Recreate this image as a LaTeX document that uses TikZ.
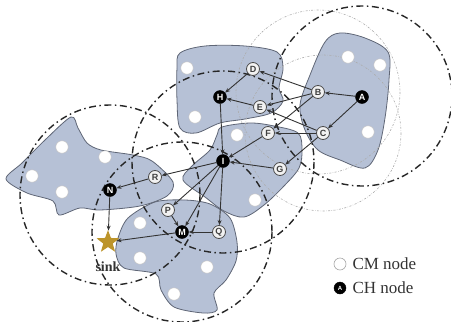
\documentclass[tikz,border=0pt]{standalone}
\usepackage{fontspec}
\setmainfont{Liberation Serif}
\setsansfont{Liberation Sans}
\usetikzlibrary{arrows.meta,shapes.geometric}
\definecolor{blobfill}{RGB}{182,193,214}
\definecolor{blobline}{RGB}{95,102,118}
\definecolor{starcol}{RGB}{188,148,42}
\begin{document}
\begin{tikzpicture}[x=1pt,y=-1pt,
 blob/.style={fill=blobfill,draw=blobline,line width=0.8pt},
 wdot/.style={circle,fill=white,draw=gray!50,line width=0.4pt,minimum size=12.5pt,inner sep=0pt},
 cmnode/.style={circle,fill=gray!10,draw=black!70,line width=0.8pt,minimum size=13pt,inner sep=0pt,font=\sffamily\bfseries\fontsize{9}{9}\selectfont,text=black!75},
 chnode/.style={circle,fill=black,draw=black,minimum size=13pt,inner sep=0pt,font=\sffamily\bfseries\fontsize{9}{9}\selectfont,text=white},
 chrange/.style={draw=black!85,line width=1.4pt,dash pattern=on 7pt off 3.5pt on 1.5pt off 3.5pt},
 cmrange/.style={draw=gray!65,line width=0.6pt,dash pattern=on 2pt off 1.5pt on 0.5pt off 1.5pt},
 link/.style={-{Stealth[length=5pt,width=4pt]},draw=black!80,line width=0.9pt}]
\useasboundingbox (0,0) rectangle (451,322);
\clip (0,0) rectangle (451,322);
% blobs
\draw[blob] plot[smooth cycle,tension=0.55] coordinates {(180,53) (205,46) (245,46) (277,52) (283,68) (279,88) (283,101) (271,113) (245,119) (220,123) (196,133) (180,128) (177,100) (177,68)};
\draw[blob] plot[smooth cycle,tension=0.55] coordinates {(340,33) (365,38) (388,52) (389,80) (385,118) (378,150) (365,168) (340,160) (318,150) (305,130) (300,105) (310,75) (325,42)};
\draw[blob] plot[smooth cycle,tension=0.55] coordinates {(222,127) (250,123) (274,126) (298,133) (302,150) (299,168) (284,186) (264,205) (244,217) (224,211) (205,197) (183,180) (192,166) (210,150) (217,135)};
\draw[blob] plot[smooth cycle,tension=0.5] coordinates {(6,179) (22,163) (45,140) (71,117) (78,128) (87,143) (101,150) (133,155) (152,161) (173,182) (167,196) (140,206) (100,210) (80,208) (59,215) (53,201) (27,193)};
\draw[blob] plot[smooth cycle,tension=0.5] coordinates {(118,238) (128,218) (155,202) (185,200) (210,204) (230,218) (237,242) (236,261) (226,280) (214,293) (217,310) (203,313) (174,307) (161,290) (156,274) (124,268) (116,254)};
% ranges
\draw[cmrange] (318,92) circle[radius=82];
\draw[cmrange] (323,133) circle[radius=78];
\draw[chrange] (362,96) circle[radius=90];
\draw[chrange] (223,162) circle[radius=91];
\draw[chrange] (110,195) circle[radius=90];
\draw[chrange] (182,232) circle[radius=90];
% white dots
\foreach \p [count=\k] in {(187,68),(195,117),(348,57),(380,65),(368,132),(237,135),(255,200),(62,147),(105,157),(32,176),(62,192),(140,223),(140,258),(207,267),(174,294)}
  \node[wdot] (w\k) at \p {};
% sensor nodes
\node[chnode] (A) at (362,97) {A};
\node[cmnode] (B) at (318,92) {B};
\node[cmnode] (C) at (323,133) {C};
\node[cmnode] (D) at (253,69) {D};
\node[cmnode] (E) at (260,107) {E};
\node[cmnode] (F) at (268,133) {F};
\node[cmnode] (G) at (280,169) {G};
\node[chnode] (H) at (220,97) {H};
\node[chnode] (I) at (223,161) {I};
\node[cmnode] (R) at (155,177) {R};
\node[chnode] (N) at (110,190) {N};
\node[cmnode] (P) at (168,210) {P};
\node[chnode] (M) at (182,232) {M};
\node[cmnode] (Q) at (219,232) {Q};
\node[star,star points=5,star point ratio=2.4,fill=starcol,minimum size=24pt,inner sep=0pt] (sink) at (108,242) {};
\node[font=\bfseries\fontsize{14}{14}\selectfont,text=black!80] (sinklbl) at (108,267) {sink};
% links
\foreach \s/\t in {A/B,A/C,B/D,B/E,B/F,C/E,C/F,C/G,D/H,E/H,H/I,F/I,G/I,I/R,I/P,I/M,I/Q,R/N,P/M,Q/M}
  \draw[link] (\s) -- (\t);
\draw[link] (N) -- (sink);
\draw[link] (M) -- (sink);
% legend
\node[circle,fill=white,draw=gray!70,line width=0.6pt,minimum size=12pt,inner sep=0pt] (lcm) at (340,264) {};
\node[anchor=west,font=\fontsize{17}{17}\selectfont,text=black!80] (lcmt) at (349,264) {CM node};
\node[chnode,minimum size=12pt,font=\sffamily\bfseries\fontsize{6}{6}\selectfont] (lch) at (340,288) {A};
\node[anchor=west,font=\fontsize{17}{17}\selectfont,text=black!80] (lcht) at (349,288) {CH node};
\end{tikzpicture}
\end{document}
